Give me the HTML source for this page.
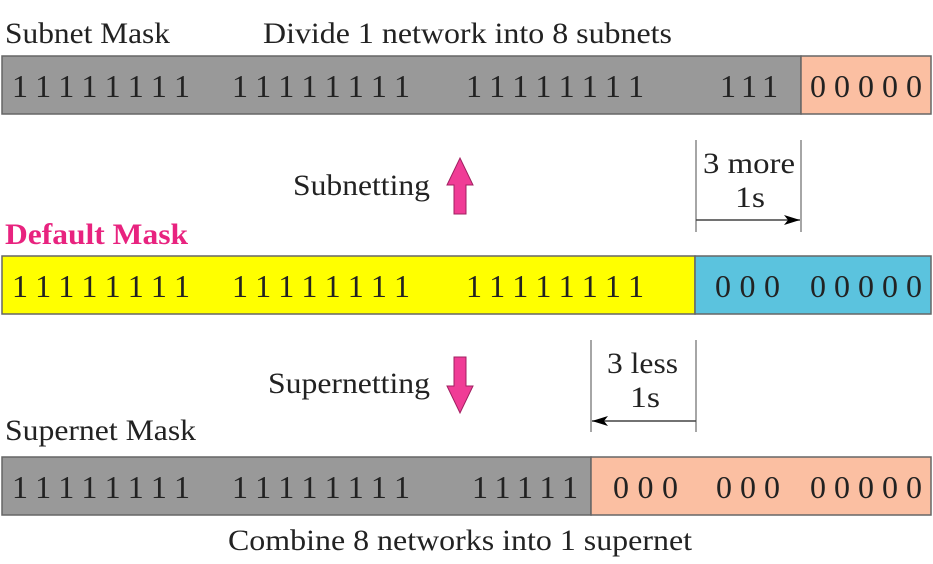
<!DOCTYPE html>
<html><head><meta charset="utf-8"><style>
html,body{margin:0;padding:0;background:#fff;}
svg{display:block;}
text{font-family:"Liberation Serif",serif;font-size:30px;fill:#222;}
text.d{font-size:32px;}
</style></head><body>
<svg width="933" height="564" viewBox="0 0 933 564" xmlns="http://www.w3.org/2000/svg">
<defs>
<marker id="ah" markerWidth="16" markerHeight="10" refX="16" refY="5" orient="auto" markerUnits="userSpaceOnUse"><path d="M0,0 L16,5 L0,10 L4,5 Z" fill="#000"/></marker>
</defs>
<rect x="2" y="56" width="799" height="58" fill="#999" stroke="#666" stroke-width="1.5"/>
<rect x="801" y="56" width="130" height="58" fill="#fbbfa2" stroke="#666" stroke-width="1.5"/>
<rect x="2" y="256" width="693" height="58" fill="#ffff00" stroke="#666" stroke-width="1.5"/>
<rect x="695" y="256" width="236" height="58" fill="#5bc3de" stroke="#666" stroke-width="1.5"/>
<rect x="2" y="457" width="589" height="58" fill="#999" stroke="#666" stroke-width="1.5"/>
<rect x="591" y="457" width="340" height="58" fill="#fbbfa2" stroke="#666" stroke-width="1.5"/>

<text x="5" y="43" textLength="165" lengthAdjust="spacingAndGlyphs">Subnet Mask</text>
<text x="263" y="43" textLength="409" lengthAdjust="spacingAndGlyphs">Divide 1 network into 8 subnets</text>

<text class="d" x="12" y="97" textLength="178" lengthAdjust="spacing">11111111</text>
<text class="d" x="232" y="97" textLength="178" lengthAdjust="spacing">11111111</text>
<text class="d" x="466" y="97" textLength="178" lengthAdjust="spacing">11111111</text>
<text class="d" x="720" y="97" textLength="58" lengthAdjust="spacing">111</text>
<text class="d" x="810" y="97" textLength="112" lengthAdjust="spacing">00000</text>

<text x="293" y="195" textLength="137" lengthAdjust="spacingAndGlyphs">Subnetting</text>
<path d="M454,214 L466,214 L466,185 L473,185 L460,158 L447,185 L454,185 Z" fill="#f03c96" stroke="#a02060" stroke-width="1"/>

<line x1="696" y1="140" x2="696" y2="232" stroke="#888" stroke-width="1.5"/>
<line x1="801" y1="140" x2="801" y2="232" stroke="#888" stroke-width="1.5"/>
<line x1="696" y1="220" x2="800" y2="220" stroke="#444" stroke-width="1.5" marker-end="url(#ah)"/>
<text x="703" y="173" textLength="92" lengthAdjust="spacingAndGlyphs">3 more</text>
<text x="735" y="207" textLength="30" lengthAdjust="spacingAndGlyphs">1s</text>

<text x="5" y="244" textLength="183" lengthAdjust="spacingAndGlyphs" style="font-weight:bold;fill:#e8237f">Default Mask</text>

<text class="d" x="12" y="297" textLength="178" lengthAdjust="spacing">11111111</text>
<text class="d" x="232" y="297" textLength="178" lengthAdjust="spacing">11111111</text>
<text class="d" x="466" y="297" textLength="178" lengthAdjust="spacing">11111111</text>
<text class="d" x="715" y="297" textLength="65" lengthAdjust="spacing">000</text>
<text class="d" x="810" y="297" textLength="112" lengthAdjust="spacing">00000</text>

<text x="268" y="393" textLength="162" lengthAdjust="spacingAndGlyphs">Supernetting</text>
<path d="M454,357 L466,357 L466,386 L473,386 L460,413 L447,386 L454,386 Z" fill="#f03c96" stroke="#a02060" stroke-width="1"/>

<line x1="591" y1="340" x2="591" y2="432" stroke="#888" stroke-width="1.5"/>
<line x1="696" y1="340" x2="696" y2="432" stroke="#888" stroke-width="1.5"/>
<line x1="696" y1="421" x2="592" y2="421" stroke="#444" stroke-width="1.5" marker-end="url(#ah)"/>
<text x="607" y="373" textLength="71" lengthAdjust="spacingAndGlyphs">3 less</text>
<text x="630" y="407" textLength="30" lengthAdjust="spacingAndGlyphs">1s</text>

<text x="5" y="440" textLength="191" lengthAdjust="spacingAndGlyphs">Supernet Mask</text>

<text class="d" x="12" y="498" textLength="178" lengthAdjust="spacing">11111111</text>
<text class="d" x="232" y="498" textLength="178" lengthAdjust="spacing">11111111</text>
<text class="d" x="472" y="498" textLength="106" lengthAdjust="spacing">11111</text>
<text class="d" x="613" y="498" textLength="65" lengthAdjust="spacing">000</text>
<text class="d" x="716" y="498" textLength="64" lengthAdjust="spacing">000</text>
<text class="d" x="810" y="498" textLength="112" lengthAdjust="spacing">00000</text>

<text x="228" y="550" textLength="464" lengthAdjust="spacingAndGlyphs">Combine 8 networks into 1 supernet</text>
</svg>
</body></html>
